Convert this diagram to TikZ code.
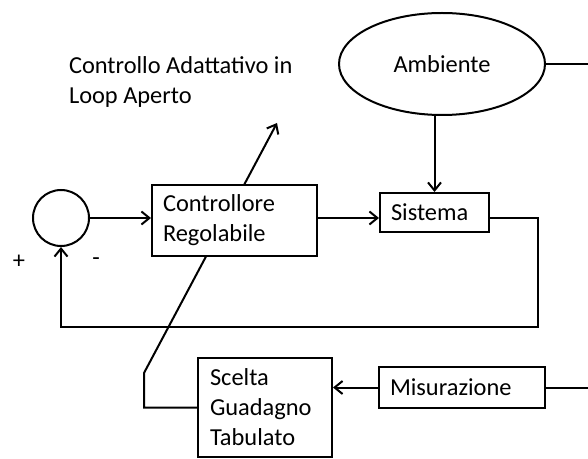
\documentclass[tikz,border=0pt]{standalone}
\usepackage{fontspec}
\setmainfont{Carlito}
\usetikzlibrary{positioning,shapes.geometric,backgrounds}
\usetikzlibrary{arrows.meta}
\tikzset{block node/.style={rectangle,draw,fill=white,line width=1pt,inner xsep=5.5pt,inner ysep=2pt,align=left}}
\tikzset{sum node/.style={circle,draw,fill=white,line width=1pt,minimum size=28pt,inner sep=0pt}}
\tikzset{env node/.style={ellipse,draw,fill=white,line width=1pt,minimum width=103pt,minimum height=51pt,inner sep=0pt}}

\begin{document}
\begin{tikzpicture}[x=0.5pt,y=-0.5pt,>={Straight Barb[length=4pt,width=6.5pt]},line width=1pt,
  font=\fontsize{12.2}{15}\selectfont]
      \useasboundingbox (0,0) rectangle (588,459);
      \node[sum node] (sum) at (61,218) {};
      \node[block node,text width=71.5pt,minimum height=35.5pt] (ctrl) at (234.5,220.5) {Controllore\\Regolabile};
      \node[block node,text width=43.5pt,minimum height=19.5pt] (sist) at (434.5,212.5) {Sistema};
      \node[env node] (amb) at (442,64) {Ambiente};
      \node[block node,inner xsep=6pt,text width=55pt,minimum height=49.5pt] (scelta) at (265,407.5) {Scelta\\Guadagno\\Tabulato};
      \node[block node,text width=72pt,minimum height=20.5pt] (misu) at (462,387.5) {Misurazione};
      \node[anchor=north west,inner sep=0pt,align=left] (titolo) at (68,56) {Controllo Adattativo in\\Loop Aperto};
      \node at (19,262) {+};
      \node at (96,262) {-};
      \coordinate (fbR) at (538,327);
      \coordinate (kink) at (144,373);
      \coordinate (tip) at (277,123);
      \coordinate (edgeR) at (588,0);
      \draw[->] (sum.east) -- (sum.east -| ctrl.west);
      \draw[->] (ctrl.east |- sum) -- (sist.west |- sum);
      \draw[->] (amb.south -| sist.north) -- (sist.north);
      \draw[->] (sist.east |- sum) -| (fbR) -| (sum.south);
      \draw (amb.east) -- (amb.east -| edgeR);
      \draw (misu.east) -- (misu.east -| edgeR);
      \draw[->] (misu.west) -- (misu.west -| scelta.east);
      \begin{pgfonlayer}{background}
      \draw[->,line width=1pt] (scelta.west) -| (kink) -- (tip);
      \end{pgfonlayer}
    \end{tikzpicture}
\end{document}
